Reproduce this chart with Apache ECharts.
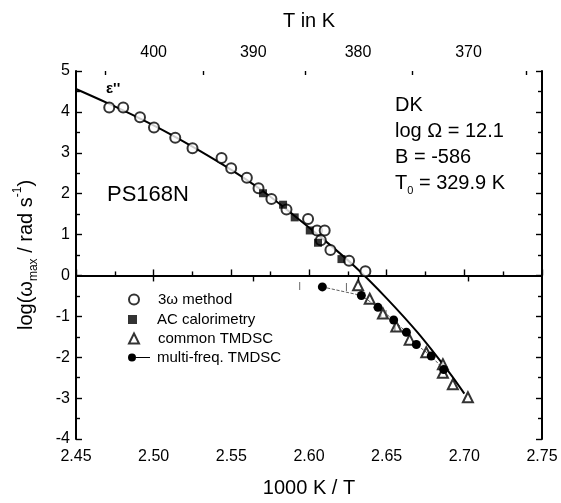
<!DOCTYPE html>
<html>
<head>
<meta charset="utf-8">
<script src="https://cdn.jsdelivr.net/npm/echarts@6/dist/echarts.min.js"></script>
<style>
  html, body { margin: 0; padding: 0; background: #fff; }
  #chart { width: 561px; height: 503px; }
</style>
</head>
<body>
<div id="chart"></div>
<script>
// fit curve (DK)
const curveX = [2.45, 2.47, 2.49, 2.51, 2.53, 2.55, 2.57, 2.59, 2.61, 2.63, 2.65, 2.67, 2.69, 2.70]
const curveY = [4.56, 4.22, 3.86, 3.47, 3.04, 2.58, 2.07, 1.48, 0.86, 0.2, -0.56, -1.4, -2.36, -2.89]

// 3ω method
const omegaX = [2.4714, 2.4804, 2.4912, 2.5002, 2.5139, 2.525, 2.5437, 2.5499, 2.56, 2.5675, 2.5758, 2.5855, 2.5994, 2.6052, 2.6101, 2.6076, 2.6138, 2.6258, 2.6363]
const omegaY = [4.11, 4.11, 3.87, 3.62, 3.37, 3.11, 2.87, 2.62, 2.39, 2.13, 1.87, 1.61, 1.38, 1.1, 1.1, 0.86, 0.62, 0.36, 0.1]

// AC calorimetry
const acX = [2.5704, 2.5833, 2.5908, 2.6005, 2.6058, 2.6209]
const acY = [2.01, 1.73, 1.42, 1.1, 0.8, 0.4]

// common TMDSC
const tmdscX = [2.6316, 2.6391, 2.6476, 2.6562, 2.6648, 2.6755, 2.6862, 2.6862, 2.6926, 2.7023]
const tmdscY = [-0.24, -0.57, -0.93, -1.25, -1.57, -1.88, -2.17, -2.38, -2.66, -2.98]

// multi-freq. TMDSC
const multiX = [2.6086, 2.6337, 2.6444, 2.6545, 2.6627, 2.6691, 2.6787, 2.6867]
const multiY = [-0.28, -0.49, -0.78, -1.09, -1.39, -1.69, -1.97, -2.3]

// small vertical bars
const barX = [2.594, 2.6241, 2.6462, 2.6496, 2.6553]
const barY = [-0.26, -0.28, -0.92, -0.94, -1.26]

// top axis temperatures
const topTemps = [400, 390, 380, 370]
const topTempsMinor = [405, 395, 385, 375, 365]

const FONT = "'Liberation Sans', Arial, sans-serif"
const zip = (xs, ys) => xs.map((x, i) => [x, ys[i]])

const frame = { show: true, lineStyle: { color: '#000', width: 2 } }
const tickStyle = { color: '#000', width: 1.4 }
const labelStyle = { color: '#000', fontSize: 16, fontFamily: FONT }
const titleStyle = { color: '#000', fontSize: 20, fontFamily: FONT }

const legendText = { color: '#000', fontSize: 15, fontFamily: FONT }

function legendItem(name, icon, top, w, h, pad) {
  return {
    data: [{ name, icon }],
    left: 128,
    top,
    padding: 0,
    itemWidth: w,
    itemHeight: h,
    textStyle: Object.assign({ padding: [0, 0, 0, pad] }, legendText),
    selectedMode: false,
  }
}

const chart = echarts.init(document.getElementById('chart'), null, { renderer: 'canvas' })

chart.setOption({
  animation: false,
  backgroundColor: '#fff',
  grid: { left: 76, right: 19, top: 71, bottom: 59 },
  legend: [
    legendItem('3ω method', 'emptyCircle', 292, 10, 10, 14),
    legendItem('AC calorimetry', 'rect', 312, 9, 9, 15),
    legendItem('common TMDSC', 'emptyTriangle', 331, 10, 10, 14),
    legendItem('multi-freq. TMDSC', 'path://M0,4a4,4 0 1,1 8,0a4,4 0 1,1 -8,0z M8,3.5h14v1h-14z', 350, 22, 8, 2),
  ],
  xAxis: [
    {
      type: 'value', position: 'bottom', min: 2.45, max: 2.75, interval: 0.05,
      axisLine: frame,
      axisTick: { inside: true, length: 6, lineStyle: tickStyle },
      minorTick: { show: true, splitNumber: 2, length: 4, lineStyle: tickStyle },
      axisLabel: Object.assign({ margin: 10, formatter: v => v.toFixed(2) }, labelStyle),
      splitLine: { show: false },
      name: '1000 K / T', nameLocation: 'middle', nameGap: 39,
      nameTextStyle: titleStyle,
    },
    {
      type: 'value', position: 'top', min: 2.45, max: 2.75,
      axisLine: frame,
      axisTick: { inside: true, length: 6, lineStyle: tickStyle, customValues: topTemps.map(t => 1000 / t) },
      axisLabel: Object.assign({ margin: 10, customValues: topTemps.map(t => 1000 / t), formatter: v => String(Math.round(1000 / v)) }, labelStyle),
      splitLine: { show: false },
      name: 'T in K', nameLocation: 'middle', nameGap: 40,
      nameTextStyle: titleStyle,
    },
    {
      type: 'value', position: 'top', min: 2.45, max: 2.75,
      axisLine: { show: false },
      axisTick: { inside: true, length: 4, lineStyle: tickStyle, customValues: topTempsMinor.map(t => 1000 / t) },
      axisLabel: { show: false },
      splitLine: { show: false },
    },
  ],
  yAxis: [
    {
      type: 'value', position: 'left', min: -4, max: 5, interval: 1,
      axisLine: frame,
      axisTick: { inside: true, length: 6, lineStyle: tickStyle },
      minorTick: { show: true, splitNumber: 2, length: 4, lineStyle: tickStyle },
      axisLabel: Object.assign({ margin: 6 }, labelStyle),
      splitLine: { show: false },
      name: '{b|log(ω}{sub|max}{b| / rad s}{sup|-1}{b|)}',
      nameLocation: 'middle', nameGap: 36,
      nameTextStyle: {
        color: '#000', fontSize: 20, fontFamily: FONT,
        rich: {
          b: { fontSize: 20, lineHeight: 28, verticalAlign: 'middle', fontFamily: FONT, color: '#000' },
          sub: { fontSize: 12, lineHeight: 12, verticalAlign: 'bottom', fontFamily: FONT, color: '#000' },
          sup: { fontSize: 12, lineHeight: 12, verticalAlign: 'top', fontFamily: FONT, color: '#000' },
        },
      },
    },
    {
      type: 'value', position: 'right', min: -4, max: 5, interval: 1,
      axisLine: frame,
      axisTick: { inside: true, length: 6, lineStyle: tickStyle },
      minorTick: { show: true, splitNumber: 2, length: 4, lineStyle: tickStyle },
      axisLabel: { show: false },
      splitLine: { show: false },
    },
  ],
  graphic: [
    { type: 'text', x: 106, y: 89, style: { text: "ε''", fill: '#000', font: 'bold 15px ' + FONT, verticalAlign: 'middle' } },
    { type: 'text', x: 107, y: 195, style: { text: 'PS168N', fill: '#000', font: '22px ' + FONT, verticalAlign: 'middle' } },
    { type: 'text', x: 395, y: 105, style: { text: 'DK', fill: '#000', font: '20px ' + FONT, verticalAlign: 'middle' } },
    { type: 'text', x: 395, y: 131, style: { text: 'log Ω = 12.1', fill: '#000', font: '20px ' + FONT, verticalAlign: 'middle' } },
    { type: 'text', x: 395, y: 157, style: { text: 'B = -586', fill: '#000', font: '20px ' + FONT, verticalAlign: 'middle' } },
    {
      type: 'text', x: 395, y: 183,
      style: {
        text: '{b|T}{sub|0}{b| = 329.9 K}', verticalAlign: 'middle',
        rich: {
          b: { fontSize: 20, lineHeight: 26, verticalAlign: 'middle', fontFamily: FONT, fill: '#000' },
          sub: { fontSize: 11, lineHeight: 11, verticalAlign: 'bottom', fontFamily: FONT, fill: '#000' },
        },
      },
    },
  ],
  series: [
    {
      name: 'DK fit', type: 'line', data: zip(curveX, curveY),
      symbol: 'none', smooth: 0.3, z: 2,
      lineStyle: { color: '#000', width: 2 },
    },
    {
      name: 'multi-freq. TMDSC', type: 'line', data: zip(multiX, multiY),
      symbol: 'circle', symbolSize: 9, z: 4,
      itemStyle: { color: '#000' },
      lineStyle: { color: '#333', width: 0.8, type: 'dashed' },
    },
    {
      name: '3ω method', type: 'scatter', data: zip(omegaX, omegaY),
      symbol: 'emptyCircle', symbolSize: 10, z: 3,
      itemStyle: { color: '#000', borderWidth: 1 },
    },
    {
      name: 'AC calorimetry', type: 'scatter', data: zip(acX, acY),
      symbol: 'rect', symbolSize: 8, z: 4,
      itemStyle: { color: '#000' },
    },
    {
      name: 'common TMDSC', type: 'scatter', data: zip(tmdscX, tmdscY),
      symbol: 'emptyTriangle', symbolSize: 10, z: 3,
      itemStyle: { color: '#000', borderWidth: 1 },
    },
    {
      name: 'bars', type: 'scatter', data: zip(barX, barY),
      symbol: 'rect', symbolSize: [1, 8], z: 3,
      itemStyle: { color: '#444' },
    },
  ],
})
</script>
</body>
</html>
